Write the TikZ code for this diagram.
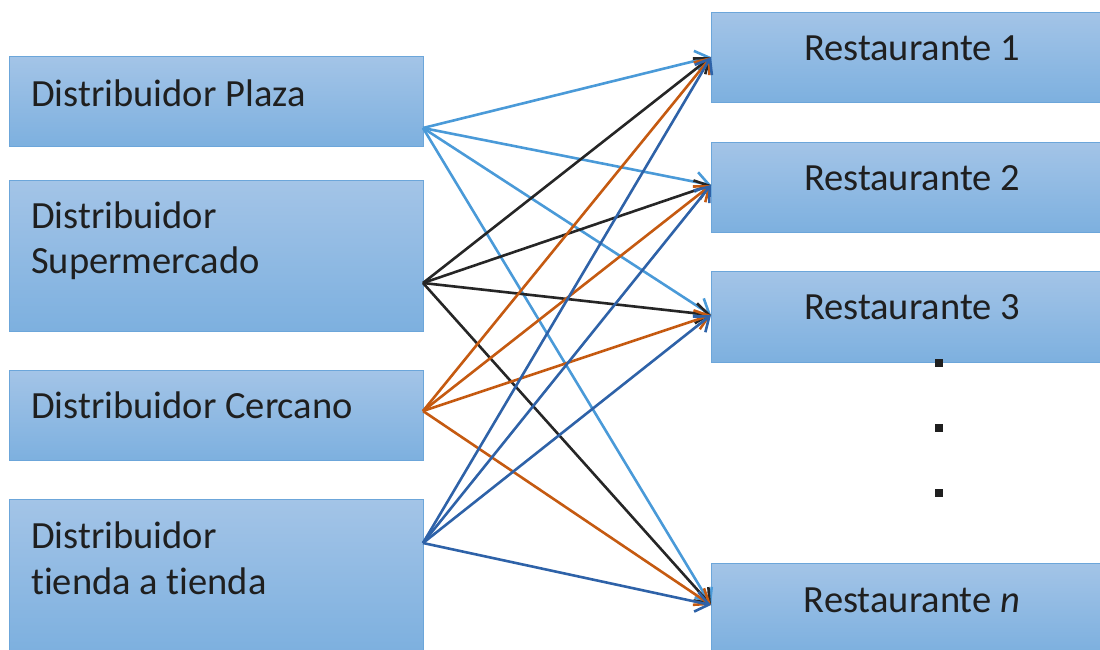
\documentclass[tikz,border=0pt]{standalone}
\usepackage{fontspec}
\setmainfont[Ligatures=NoCommon]{Carlito}
\usetikzlibrary{arrows.meta}
\definecolor{boxtop}{HTML}{A3C4E7}
\definecolor{boxbot}{HTML}{7DB0DF}
\definecolor{boxline}{HTML}{6CA6DA}
\definecolor{cPlaza}{HTML}{4A9AD8}
\definecolor{cSuper}{HTML}{262626}
\definecolor{cCerca}{HTML}{C55A11}
\definecolor{cTienda}{HTML}{2E62A8}
\definecolor{txt}{HTML}{1F1F1F}
\tikzset{
  box/.style={draw=boxline, line width=1pt, top color=boxtop, bottom color=boxbot,
    rectangle, inner sep=0pt, anchor=north west},
  lbl/.style={font=\fontsize{38.5}{46}\selectfont, text=txt, inner sep=0pt},
  link/.style={line width=2.6pt, -{Straight Barb[length=13pt,width=20pt,line width=2.6pt]}},
  dotmark/.style={fill=txt, minimum size=8pt, inner sep=0pt, rectangle}
}
\begin{document}
\begin{tikzpicture}[x=1pt,y=-1pt]
\useasboundingbox (0,0) rectangle (1100,650);
% sources
\node[box, minimum width=414pt, minimum height=90pt] (plaza) at (9,56) {};
\node[box, minimum width=414pt, minimum height=151pt] (super) at (9,180) {};
\node[box, minimum width=414pt, minimum height=90pt] (cerca) at (9,370) {};
\node[box, minimum width=414pt, minimum height=152pt] (tienda) at (9,499) {};
% destinations
\node[box, minimum width=390pt, minimum height=90pt] (r1) at (711,12) {};
\node[box, minimum width=390pt, minimum height=90pt] (r2) at (711,142) {};
\node[box, minimum width=390pt, minimum height=91pt] (r3) at (711,271) {};
\node[box, minimum width=390pt, minimum height=88pt] (rn) at (711,563) {};
% labels
\node[lbl, anchor=west] (tplaza) at (31,93) {Distribuidor Plaza};
\node[lbl, anchor=west] (tsuper1) at (31,215) {Distribuidor};
\node[lbl, anchor=west] (tsuper2) at (31,263) {Supermercado};
\node[lbl, anchor=west] (tcerca) at (31,405) {Distribuidor Cercano};
\node[lbl, anchor=west] (ttienda1) at (31,535) {Distribuidor};
\node[lbl, anchor=west] (ttienda2) at (31,581) {tienda a tienda};
\node[lbl] (tr1) at (912,48) {Restaurante 1};
\node[lbl] (tr2) at (912,178) {Restaurante 2};
\node[lbl] (tr3) at (912,307) {Restaurante 3};
\node[lbl] (trn) at (912,600) {Restaurante \textit{n}};
% ellipsis
\node[dotmark] (d1) at (939,363) {};
\node[dotmark] (d2) at (939,428) {};
\node[dotmark] (d3) at (939,493) {};
% connector ends
\coordinate (sP) at (423,128);
\coordinate (sS) at (423,283);
\coordinate (sC) at (423,411);
\coordinate (sT) at (423,543);
\coordinate (e1) at (711,57);
\coordinate (e2) at (711,185);
\coordinate (e3) at (711,315);
\coordinate (en) at (711,605);
% links
\foreach \e in {e1,e2,e3,en} \draw[link, cPlaza] (sP) -- (\e);
\foreach \e in {e1,e2,e3,en} \draw[link, cSuper] (sS) -- (\e);
\foreach \e in {e1,e2,e3,en} \draw[link, cCerca] (sC) -- (\e);
\foreach \e in {e1,e2,e3,en} \draw[link, cTienda] (sT) -- (\e);
\end{tikzpicture}
\end{document}
